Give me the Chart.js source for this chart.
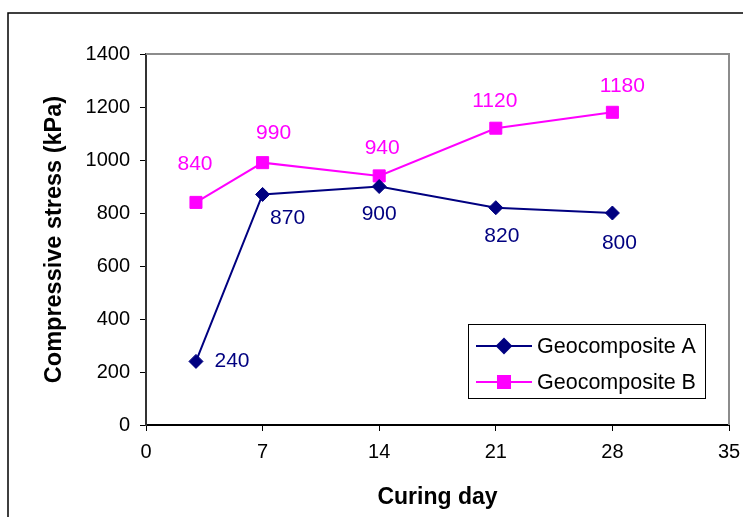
<!DOCTYPE html>
<html>
<head>
<meta charset="utf-8">
<script src="https://cdn.jsdelivr.net/npm/chart.js@4.4.1/dist/chart.umd.min.js"></script>
<style>
  html, body { margin: 0; padding: 0; background: #fff; }
  #wrap { width: 743px; height: 517px; }
</style>
</head>
<body>
<div id="wrap"><canvas id="myChart" width="743" height="517"></canvas></div>
<script>
// data
const days = [3, 7, 14, 21, 28];
const geoA = [240, 870, 900, 820, 800];
const geoB = [840, 990, 940, 1120, 1180];
const seriesNames = ['Geocomposite A', 'Geocomposite B'];
const xTickValues = [0, 7, 14, 21, 28, 35];

// where each value label sits relative to its point (px)
const labelOffsetA = [[36, 0], [25, 24], [0, 28], [6, 29], [7, 30]];
const labelOffsetB = [[-1, -38], [11, -29], [3, -28], [-1, -27], [10, -26]];

const NAVY = '#000080';
const MAGENTA = '#FF00FF';
const FONT = 'Arial, "Liberation Sans", sans-serif';

const toXY = (xs, ys) => xs.map((x, i) => ({x: x, y: ys[i]}));

// outer frame + grey top/right plot border
const framePlugin = {
  id: 'frame',
  beforeDraw(chart) {
    const ctx = chart.ctx;
    ctx.save();
    ctx.fillStyle = '#fff';
    ctx.fillRect(0, 0, chart.width, chart.height);
    ctx.strokeStyle = '#000';
    ctx.lineWidth = 1.5;
    ctx.beginPath();
    ctx.moveTo(8, chart.height + 2);
    ctx.lineTo(8, 13);
    ctx.lineTo(chart.width + 2, 13);
    ctx.stroke();
    ctx.restore();
  },
  afterDatasetsDraw(chart) {
    const a = chart.chartArea;
    const ctx = chart.ctx;
    ctx.save();
    ctx.strokeStyle = '#8c8c8c';
    ctx.lineWidth = 2;
    ctx.beginPath();
    ctx.moveTo(a.left, a.top);
    ctx.lineTo(a.right, a.top);
    ctx.lineTo(a.right, a.bottom);
    ctx.stroke();
    ctx.restore();
  }
};

// value labels next to points
const valueLabels = {
  id: 'valueLabels',
  afterDatasetsDraw(chart) {
    const ctx = chart.ctx;
    const offs = [labelOffsetA, labelOffsetB];
    ctx.save();
    ctx.font = '21px ' + FONT;
    ctx.textAlign = 'center';
    ctx.textBaseline = 'middle';
    chart.data.datasets.forEach((ds, di) => {
      const meta = chart.getDatasetMeta(di);
      ctx.fillStyle = ds.borderColor;
      meta.data.forEach((pt, i) => {
        const o = offs[di][i];
        ctx.fillText(String(ds.data[i].y), pt.x + o[0], pt.y + o[1]);
      });
    });
    ctx.restore();
  }
};

// boxed legend inside the plot, lower right
const boxLegend = {
  id: 'boxLegend',
  afterDraw(chart) {
    const ctx = chart.ctx;
    const x0 = 468, y0 = 324, w = 237, h = 74;
    ctx.save();
    ctx.fillStyle = '#fff';
    ctx.fillRect(x0, y0, w, h);
    ctx.strokeStyle = '#000';
    ctx.lineWidth = 1;
    ctx.strokeRect(x0 + 0.5, y0 + 0.5, w, h);
    ctx.font = '21.5px ' + FONT;
    ctx.textBaseline = 'middle';
    ctx.textAlign = 'left';
    const rows = [346, 382];
    chart.data.datasets.forEach((ds, i) => {
      const y = rows[i];
      ctx.strokeStyle = ds.borderColor;
      ctx.lineWidth = 2;
      ctx.beginPath();
      ctx.moveTo(476, y);
      ctx.lineTo(532, y);
      ctx.stroke();
      Chart.helpers.drawPoint(ctx, {
        pointStyle: ds.pointStyle,
        radius: ds.pointRadius,
        borderWidth: 1
      }, 504, y);
      ctx.fillStyle = ds.borderColor;
      ctx.fill();
      ctx.fillStyle = '#000';
      ctx.fillText(ds.label, 537, y + 1);
    });
    ctx.restore();
  }
};

const ctx = document.getElementById('myChart').getContext('2d');
const myChart = new Chart(ctx, {
  type: 'line',
  data: {
    datasets: [
      {
        label: seriesNames[0],
        data: toXY(days, geoA),
        borderColor: NAVY,
        backgroundColor: NAVY,
        borderWidth: 2,
        pointStyle: 'rectRot',
        pointRadius: 7,
        pointBorderWidth: 1,
        tension: 0
      },
      {
        label: seriesNames[1],
        data: toXY(days, geoB),
        borderColor: MAGENTA,
        backgroundColor: MAGENTA,
        borderWidth: 2,
        pointStyle: 'rect',
        pointRadius: 8.5,
        pointBorderWidth: 1,
        tension: 0
      }
    ]
  },
  options: {
    responsive: false,
    animation: false,
    devicePixelRatio: 1,
    layout: { padding: { top: 54, right: 14, left: 0, bottom: 0 } },
    plugins: {
      legend: { display: false },
      tooltip: { enabled: false }
    },
    scales: {
      x: {
        type: 'linear',
        min: 0,
        max: 35,
        afterBuildTicks(scale) {
          scale.ticks = xTickValues.map(v => ({value: v}));
        },
        afterFit(scale) {
          scale.height = 92;
          scale.paddingRight = 0;
          scale.paddingLeft = 0;
        },
        grid: { display: true, drawOnChartArea: false, drawTicks: true, tickLength: 6, color: '#000' },
        border: { color: '#000', width: 2 },
        ticks: { color: '#000', font: { family: FONT, size: 20 }, padding: 9, maxRotation: 0 },
        title: {
          display: true,
          text: 'Curing day',
          color: '#000',
          font: { family: FONT, size: 23, weight: 'bold' },
          padding: { top: 0, bottom: 6 }
        }
      },
      y: {
        min: 0,
        max: 1400,
        ticks: {
          stepSize: 200,
          color: '#000',
          font: { family: FONT, size: 20 },
          padding: 10,
          callback: v => String(v)
        },
        afterFit(scale) { scale.width = 146; },
        grid: { display: true, drawOnChartArea: false, drawTicks: true, tickLength: 6, color: '#000' },
        border: { color: '#333', width: 2 },
        title: {
          display: true,
          text: 'Compressive stress (kPa)',
          color: '#000',
          font: { family: FONT, size: 23.5, weight: 'bold' },
          padding: { top: 40, bottom: 0 }
        }
      }
    }
  },
  plugins: [framePlugin, valueLabels, boxLegend]
});
</script>
</body>
</html>
